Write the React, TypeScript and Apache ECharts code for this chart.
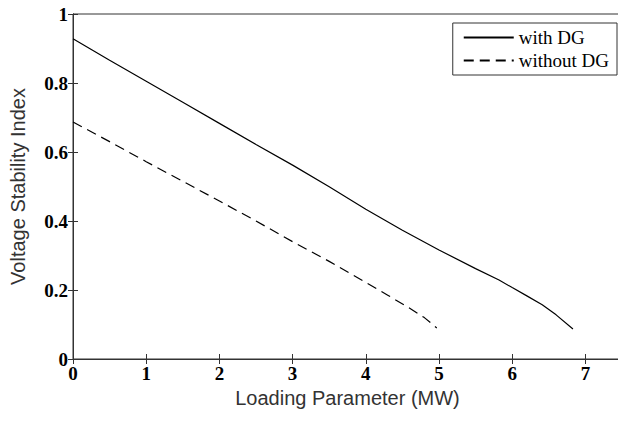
import React, { useEffect, useRef } from "react";
import * as echarts from "echarts";

const withDG_x = [0, 0.5, 1, 1.5, 2, 2.5, 3, 3.5, 4, 4.5, 5, 5.5, 5.82, 6, 6.2, 6.41, 6.6, 6.83];
const withDG_y = [0.928, 0.866, 0.805, 0.744, 0.683, 0.622, 0.562, 0.499, 0.434, 0.373, 0.316, 0.262, 0.229, 0.207, 0.183, 0.157, 0.128, 0.087];
const withoutDG_x = [0, 0.5, 1, 1.5, 2, 2.5, 3, 3.5, 4, 4.3, 4.6, 4.8, 4.97];
const withoutDG_y = [0.687, 0.63, 0.572, 0.515, 0.458, 0.4, 0.34, 0.283, 0.222, 0.185, 0.147, 0.12, 0.09];

const seriesNames = ["with DG", "without DG"];
const xTitle = "Loading Parameter (MW)";
const yTitle = "Voltage Stability Index";

const zip = (xs: number[], ys: number[]) => xs.map((x, i) => [x, ys[i]]);

export default function App() {
  const ref = useRef<HTMLDivElement>(null);
  useEffect(() => {
    if (!ref.current) return;
    const chart = echarts.init(ref.current, undefined, { renderer: "svg" });
    const axisColor = "#333";
    const tickLabel = {
      color: "#000",
      fontFamily: "Liberation Serif",
      fontWeight: "bold" as const,
      fontSize: 19,
    };
    const titleStyle = { fontFamily: "Liberation Sans", fontSize: 20, color: "#333" };
    chart.setOption({
      animation: false,
      backgroundColor: "#fff",
      grid: {
        left: 72,
        right: 4,
        top: 14,
        bottom: 62,
        show: true,
        borderColor: axisColor,
        borderWidth: 1,
      },
      legend: {
        orient: "vertical",
        right: 9,
        top: 23,
        data: seriesNames,
        itemWidth: 50,
        itemHeight: 14,
        itemGap: 4,
        padding: [5, 8, 5, 10],
        borderColor: "#333",
        borderWidth: 1,
        backgroundColor: "#fff",
        align: "left",
        itemStyle: { opacity: 0 },
        textStyle: { fontFamily: "Liberation Serif", fontSize: 19, color: "#000" },
      },
      xAxis: [
        {
          type: "value",
          min: 0,
          max: 7.5,
          interval: 1,
          name: xTitle,
          nameLocation: "middle",
          nameGap: 26,
          nameTextStyle: titleStyle,
          axisLine: { show: true, lineStyle: { color: axisColor } },
          axisTick: { show: true, inside: true, length: 5, lineStyle: { color: axisColor } },
          axisLabel: {
            ...tickLabel,
            margin: 5,
            showMaxLabel: false,
            formatter: (v: number) => (Number.isInteger(v) ? String(v) : ""),
          },
          splitLine: { show: false },
        },
        {
          type: "value",
          position: "top",
          min: 0,
          max: 7.5,
          interval: 1,
          axisLine: { show: true, lineStyle: { color: axisColor } },
          axisTick: { show: true, inside: true, length: 5, lineStyle: { color: axisColor } },
          axisLabel: { show: false },
          splitLine: { show: false },
        },
      ],
      yAxis: [
        {
          type: "value",
          min: 0,
          max: 1,
          interval: 0.2,
          name: yTitle,
          nameLocation: "middle",
          nameGap: 45,
          nameTextStyle: titleStyle,
          axisLine: { show: true, lineStyle: { color: axisColor } },
          axisTick: { show: true, inside: true, length: 5, lineStyle: { color: axisColor } },
          axisLabel: { ...tickLabel, margin: 5 },
          splitLine: { show: false },
        },
        {
          type: "value",
          position: "right",
          min: 0,
          max: 1,
          interval: 0.2,
          axisLine: { show: true, lineStyle: { color: axisColor } },
          axisTick: { show: true, inside: true, length: 5, lineStyle: { color: axisColor } },
          axisLabel: { show: false },
          splitLine: { show: false },
        },
      ],
      series: [
        {
          name: seriesNames[0],
          type: "line",
          data: zip(withDG_x, withDG_y),
          symbol: "none",
          smooth: false,
          lineStyle: { color: "#000", width: 1.2, type: "solid" },
          itemStyle: { color: "#000" },
        },
        {
          name: seriesNames[1],
          type: "line",
          data: zip(withoutDG_x, withoutDG_y),
          symbol: "none",
          smooth: false,
          lineStyle: { color: "#000", width: 1.2, type: [10, 6] },
          itemStyle: { color: "#000" },
        },
      ],
    });
    return () => chart.dispose();
  }, []);
  return <div ref={ref} style={{ width: 626, height: 421, margin: -8 }} />;
}
